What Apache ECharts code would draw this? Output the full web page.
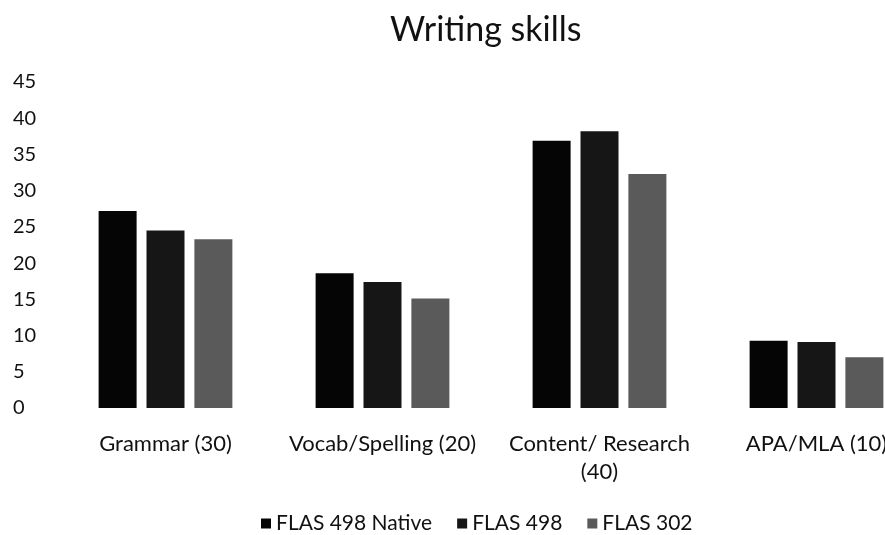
<!DOCTYPE html>
<html lang="en">
<head>
    <meta charset="UTF-8">
    <title>Writing skills</title>
</head>
<body style="margin:0;background:#fff;">
<div id="container" style="width: 885px;height: 535px;"></div>
<script src="https://cdn.jsdelivr.net/npm/echarts@6/dist/echarts.min.js"></script>
<script>
  var categories = ['Grammar (30)', 'Vocab/Spelling (20)', 'Content/ Research\n(40)', 'APA/MLA (10)'];
  var flas498Native = [27.2, 18.6, 36.9, 9.3];
  var flas498 = [24.5, 17.4, 38.2, 9.1];
  var flas302 = [23.3, 15.1, 32.3, 7.0];

  var font = 'Lato, "Open Sans", sans-serif';
  var myChart = echarts.init(document.getElementById('container'));
  var option = {
    backgroundColor: '#fff',
    color: ['#050505', '#161616', '#5a5a5a'],
    title: {
      text: 'Writing skills',
      left: 385,
      top: 8,
      textStyle: {
        fontFamily: font,
        fontSize: 34,
        fontWeight: 'normal',
        color: '#111'
      }
    },
    legend: {
      top: 508,
      left: 256,
      icon: 'rect',
      itemWidth: 10,
      itemHeight: 10,
      itemGap: 25,
      textStyle: {
        fontFamily: font,
        fontSize: 21,
        color: '#111'
      }
    },
    grid: {
      left: 57,
      right: -40,
      top: 82,
      bottom: 127,
      outerBoundsMode: 'none'
    },
    xAxis: {
      type: 'category',
      data: categories,
      axisLine: { show: false },
      axisTick: { show: false },
      axisLabel: {
        interval: 0,
        margin: 22,
        fontFamily: font,
        fontSize: 22,
        lineHeight: 28,
        color: '#111'
      }
    },
    yAxis: {
      type: 'value',
      min: 0,
      max: 45,
      interval: 5,
      axisLine: { show: false },
      axisTick: { show: false },
      splitLine: { show: false },
      axisLabel: {
        align: 'left',
        margin: 44,
        fontFamily: font,
        fontSize: 20,
        color: '#111'
      }
    },
    series: [{
      name: 'FLAS 498 Native',
      type: 'bar',
      barWidth: 38,
      barGap: '26%',
      data: flas498Native
    }, {
      name: 'FLAS 498',
      type: 'bar',
      barWidth: 38,
      barGap: '26%',
      data: flas498
    }, {
      name: 'FLAS 302',
      type: 'bar',
      barWidth: 38,
      barGap: '26%',
      data: flas302
    }]
  };
  myChart.setOption(option);
</script>
</body>
</html>
